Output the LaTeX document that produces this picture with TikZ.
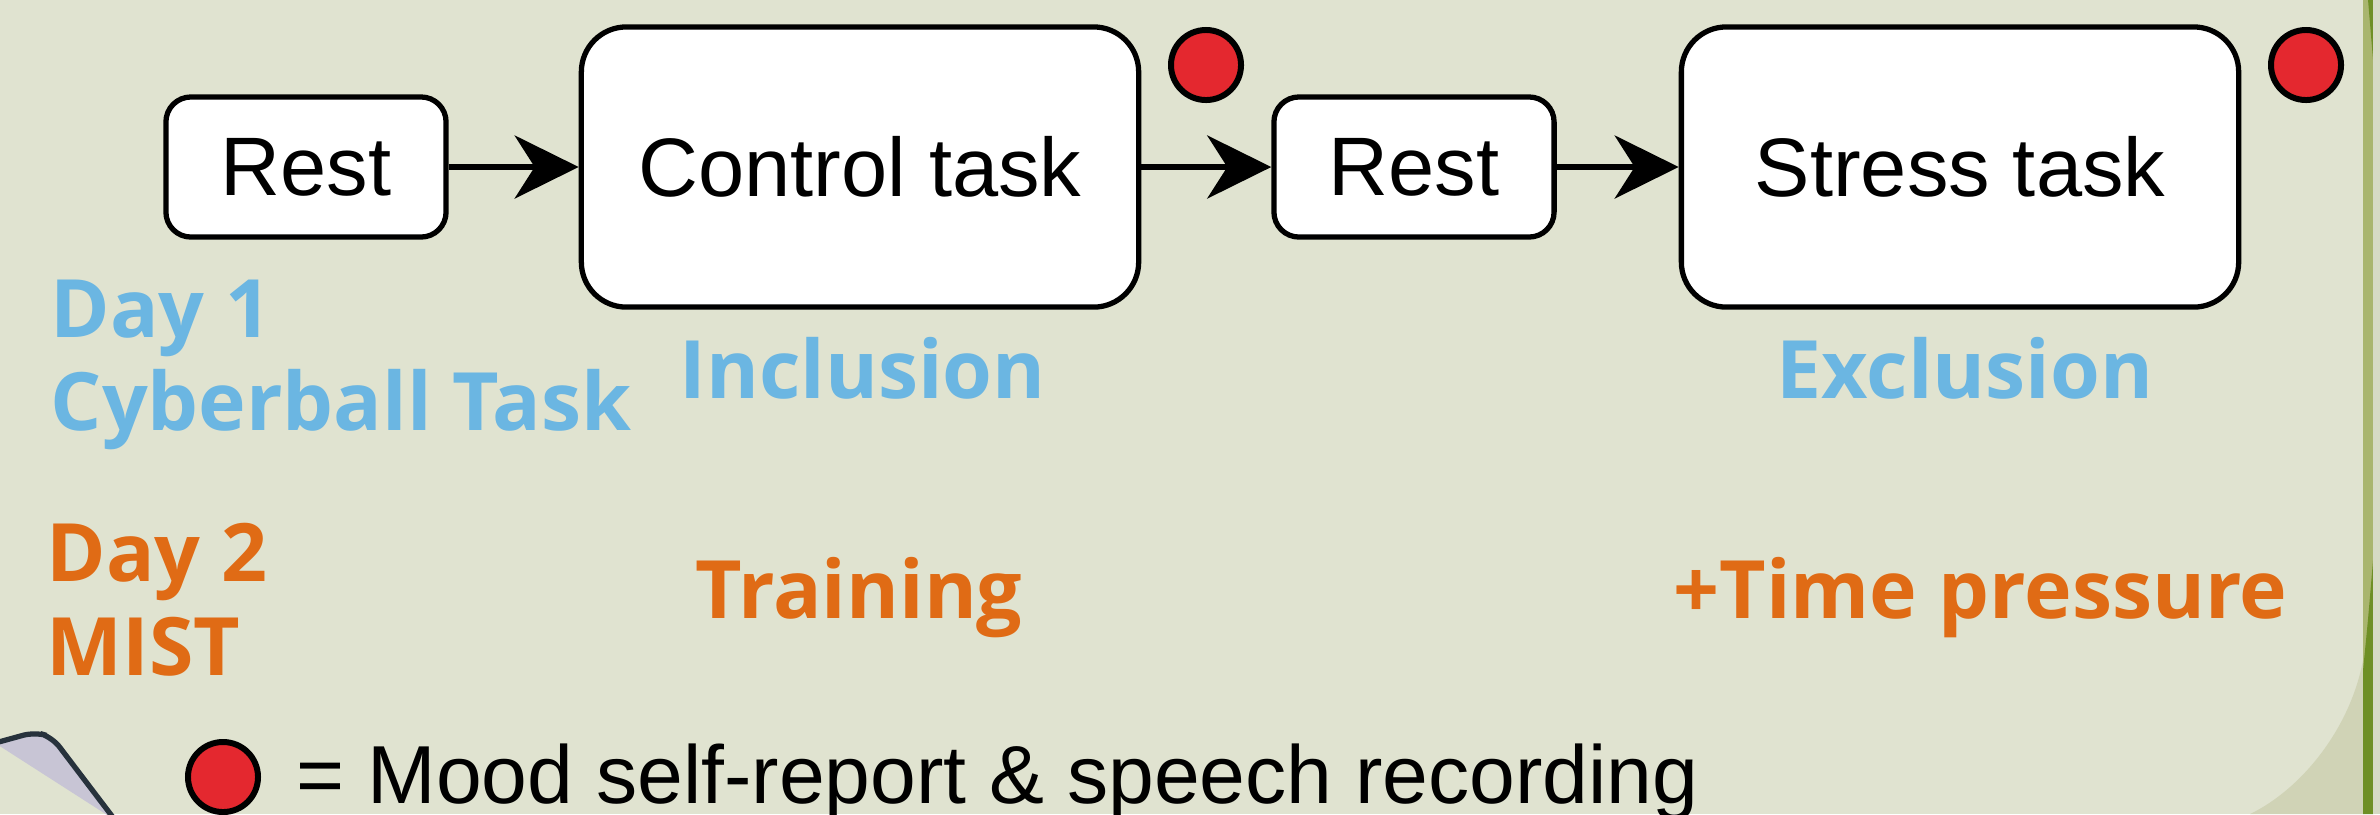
\documentclass[tikz,border=0pt]{standalone}
\usepackage{fontspec}
\setmainfont{Liberation Sans}
\newfontfamily\labelfont{Open Sans}
\usetikzlibrary{arrows.meta}

\definecolor{bgcol}{HTML}{E0E3D0}
\definecolor{bgdark}{HTML}{D0D3B6}
\definecolor{barlight}{HTML}{A9B56E}
\definecolor{bardark}{HTML}{6E8F25}
\definecolor{edgegrey}{HTML}{D6DAC4}
\definecolor{dayone}{HTML}{6BB6E2}
\definecolor{daytwo}{HTML}{E06B15}
\definecolor{dotred}{HTML}{E4282F}
\definecolor{iconfill}{HTML}{C8C5D5}
\definecolor{iconline}{HTML}{27323C}

\begin{document}
\begin{tikzpicture}[x=0.01cm, y=-0.01cm,
		restbox/.style={draw, line width=1.5pt, fill=white, rounded corners=0.25cm,
			minimum width=2.8cm, minimum height=1.4cm, font=\fontsize{23.6}{28}\selectfont},
		taskbox/.style={draw, line width=1.5pt, fill=white, rounded corners=0.45cm,
			minimum width=5.57cm, minimum height=2.8cm, font=\fontsize{23.6}{28}\selectfont},
		recdot/.style={draw, circle, line width=1.7pt, fill=dotred, minimum size=0.7cm, inner sep=0pt},
		daylabel/.style={anchor=base west, inner sep=0pt, font=\labelfont\bfseries\fontsize{22.9}{28}\selectfont},
		edgestyle/.style={line width=1.6pt, -{Stealth[length=0.64cm, width=0.63cm, inset=0.2cm]}}]

		% background
		\useasboundingbox (0,0) rectangle (2380,814);
		\fill [bgcol] (0,0) rectangle (2380,814);
		\fill [bgdark] (2363,660) .. controls (2350,730) and (2300,790) .. (2250,814) -- (2363,814) -- cycle;
		\fill [barlight] (2363,0) rectangle (2373,814);
		\fill [bardark] (2368,0) -- (2373,0) -- (2373,60) -- cycle;
		\fill [bardark] (2363,814) -- (2363,670) .. controls (2368,620) .. (2373,560) -- (2373,814) -- cycle;
		\fill [edgegrey] (2373,0) rectangle (2380,814);
		\filldraw [fill=iconfill, draw=iconline, line width=1.5pt, rounded corners=0.12cm]
			(-5,743) -- (35,732) -- (52,737) -- (115,820);

		% boxes
		\node [restbox] (rest1) at (306,167) {Rest};
		\node [taskbox] (control) at (860,167) {Control task};
		\node [restbox] (rest2) at (1414,167) {Rest};
		\node [taskbox] (stress) at (1960,167) {Stress task};

		\draw [edgestyle] (rest1) -- (control);
		\draw [edgestyle] (control.east |- rest2) -- (rest2);
		\draw [edgestyle] (rest2) -- (stress.west |- rest2);

		% recording dots
		\node [recdot] (dot1) at (1206,65) {};
		\node [recdot] (dot2) at (2306,65) {};
		\node [recdot] (legdot) at (223,777) {};
		\node [anchor=base west, inner sep=0pt, font=\fontsize{23.4}{28}\selectfont] (legend) at (296,803)
			{= Mood self-report \& speech recording};

		% day labels
		\node [daylabel, text=dayone] (day1) at (50,337) {Day 1};
		\node [daylabel, text=dayone] (cyber) at (50,430) {Cyberball Task};
		\node [daylabel, text=dayone] (incl) at (679,398) {Inclusion};
		\node [daylabel, text=dayone] (excl) at (1776,398) {Exclusion};
		\node [daylabel, text=daytwo] (day2) at (46,581) {Day 2};
		\node [daylabel, text=daytwo] (mist) at (46,675) {MIST};
		\node [daylabel, text=daytwo] (train) at (695,618) {Training};
		\node [daylabel, text=daytwo] (timep) at (1673,618) {+Time pressure};
\end{tikzpicture}
\end{document}
